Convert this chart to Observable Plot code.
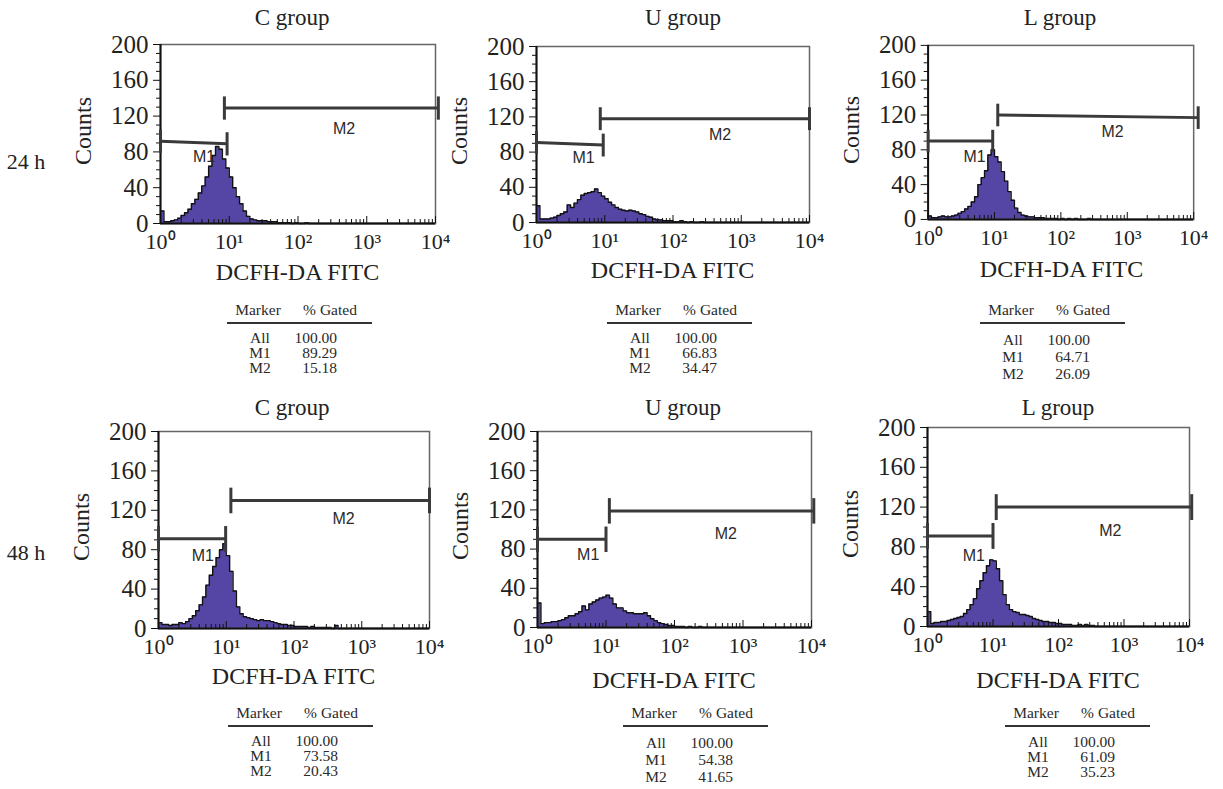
<!DOCTYPE html>
<html><head><meta charset="utf-8">
<script src="https://cdn.jsdelivr.net/npm/d3@7"></script>
<script src="https://cdn.jsdelivr.net/npm/@observablehq/plot@0.6"></script>
<style>
body{margin:0;background:#fff}
#root{position:relative;width:1223px;height:789px;overflow:hidden;font-family:"Liberation Serif","Times New Roman",serif;color:#222}
.t{position:absolute;white-space:nowrap;transform:translate(-50%,-50%);line-height:1}
.rot{transform:translate(-50%,-50%) rotate(-90deg)}
.p{position:absolute}
.tbl{position:absolute;width:145px;height:80px;font-size:15.5px;color:#2a2a2a}
.tbl div{position:absolute;white-space:nowrap;line-height:1}
</style></head><body><div id="root"></div>
<script>
// ---------- data ----------
const groups = ["C group", "U group", "L group", "C group", "U group", "L group"];
const times = ["24 h", "48 h"];
const binStep = 0.05; // decades per histogram channel, starting at 10^0

const countsC24 = [14,2,2,3,4,6,9,12,16,22,27,34,42,52,64,76,86,83,72,62,52,40,30,22,14,8,5,4,3,3,3,2,2,2,1,1,1,1,0,1,0,0,1,0,0,0,0,0,0,0,0];
const countsU24 = [19,4,4,4,5,6,8,10,12,20,17,22,26,31,33,34,35,38,34,30,27,23,20,17,15,14,13,14,13,12,10,9,7,6,4,3,3,2,2,2,1,1,2,1,0,1,0,0,1,0,0];
const countsL24 = [4,2,2,3,4,3,3,4,5,7,9,12,15,20,26,40,48,56,74,80,72,66,55,44,32,22,13,8,5,4,3,3,2,2,2,1,1,1,1,0,1,0,1,0,1,0,0,0,1,0,0];
const countsC48 = [6,4,4,3,4,4,6,5,7,10,13,18,24,32,44,54,63,72,80,86,74,58,38,22,15,12,11,10,9,8,9,8,8,7,6,5,4,4,3,3,2,2,2,2,1,2,1,1,1,1,1,0,3,0];
const countsU48 = [25,4,5,5,6,6,7,8,10,12,12,14,16,22,18,24,26,28,30,31,33,30,24,20,20,17,15,15,14,14,14,15,12,9,7,5,4,3,2,2,1,1,1,0,1,0,0,1,0,0,0];
const countsL48 = [15,3,4,4,5,5,6,7,8,9,10,13,17,22,28,38,46,54,61,67,66,58,46,32,22,17,15,14,12,12,11,10,8,7,6,5,5,4,4,3,3,2,2,2,1,1,2,1,2,1,1];
const counts = [countsC24, countsU24, countsL24, countsC48, countsU48, countsL48];

// gate markers: [start, end] on the FITC axis, and [height at start, height at end]
const m1X = [[1, 9.3], [1, 9.5], [1, 9.4], [1, 9.8], [1, 10], [1, 10]];
const m1Y = [[92, 89], [91, 88], [90, 90], [91, 91], [90, 90], [91, 91]];
const m2X = [[8.5, 11000], [8.6, 10000], [11.2, 11700], [11.7, 10000], [11.2, 10800], [11.2, 10800]];
const m2Y = [[129, 129], [118, 118], [120, 117], [130, 130], [119, 119], [120, 120]];
const m1Label = [[4.3, 74], [4.9, 74], [5, 72], [4.5, 74], [5.5, 74], [5.1, 71]];
const m2Label = [[468, 106], [490, 100], [600, 101], [540, 111], [560, 96], [620, 96]];

const tableHeader = ["Marker", "% Gated"];
const markerNames = ["All", "M1", "M2"];
const gated = [
  ["100.00", "89.29", "15.18"],
  ["100.00", "66.83", "34.47"],
  ["100.00", "64.71", "26.09"],
  ["100.00", "73.58", "20.43"],
  ["100.00", "54.38", "41.65"],
  ["100.00", "61.09", "35.23"]
];

const xTicks = [1, 10, 100, 1000, 10000];
const xTickLabels = ["10\u2070", "10\u00B9", "10\u00B2", "10\u00B3", "10\u2074"];
const yTicks = [0, 40, 80, 120, 160, 200];
const xLabel = "DCFH-DA FITC";
const yLabel = "Counts";

// ---------- layout (pixel geometry only) ----------
const frames = [
  {l:160, r:435, t:44, b:223},
  {l:536, r:809, t:46, b:222},
  {l:928, r:1195, t:45, b:220},
  {l:158, r:429, t:431, b:628},
  {l:537, r:811, t:431, b:627},
  {l:927, r:1189, t:427, b:626}
];
const titlePos = [[292,17],[683,17],[1060,17],[292,407],[683,407],[1058,407]];
const xTitleY = [272, 270, 269, 676, 680, 680];
const tablePos = [[227,310],[607,310],[980,310],[228,713],[623,713],[1005,713]];
const rowStart = [28, 28, 30, 28, 30, 29];
const rowGap = [15, 15, 17, 15, 17, 15];
const timePos = [[26,162],[26,553]];

// minor ticks
const xMinor = [];
for (const d of [1, 10, 100, 1000]) for (let k = 2; k <= 9; k++) xMinor.push(k * d);
const yMinor = d3.range(0, 201, 10).filter(v => v % 40 !== 0);

const root = document.getElementById("root");
function addText(txt, x, y, size, cls = "t") {
  const d = document.createElement("div");
  d.className = cls; d.textContent = txt;
  d.style.left = x + "px"; d.style.top = y + "px"; d.style.fontSize = size + "px";
  root.appendChild(d);
  return d;
}

const markerColor = "#3a3a3a";
for (let i = 0; i < 6; i++) {
  const f = frames[i];
  const ml = 70, mr = 30, mt = 20, mb = 40;
  const W = f.r - f.l + ml + mr, H = f.b - f.t + mt + mb;
  const hist = counts[i].map((c, j) => ({x: Math.pow(10, j * binStep), y: c}));
  hist.push({x: Math.pow(10, counts[i].length * binStep), y: 0});
  hist.push({x: 10000, y: 0});
  const m1 = [{x1: m1X[i][0], x2: m1X[i][1], y1: m1Y[i][0], y2: m1Y[i][1]}];
  const m2 = [{x1: m2X[i][0], x2: m2X[i][1], y1: m2Y[i][0], y2: m2Y[i][1]}];
  const ends = [
    {x: m1X[i][0], y: m1Y[i][0]}, {x: m1X[i][1], y: m1Y[i][1]},
    {x: m2X[i][0], y: m2Y[i][0]}, {x: m2X[i][1], y: m2Y[i][1]}
  ];
  const labels = [
    {x: m1Label[i][0], y: m1Label[i][1], t: "M1"},
    {x: m2Label[i][0], y: m2Label[i][1], t: "M2"}
  ];
  const svg = Plot.plot({
    width: W, height: H, marginLeft: ml, marginRight: mr, marginTop: mt, marginBottom: mb,
    style: {background: "transparent", overflow: "visible", fontFamily: "Liberation Serif, serif", color: "#222"},
    x: {type: "log", domain: [1, 10000]},
    y: {domain: [0, 200]},
    marks: [
      Plot.areaY(hist, {x: "x", y: "y", curve: "step-after", fill: "#5546a6"}),
      Plot.lineY(hist, {x: "x", y: "y", curve: "step-after", stroke: "#111", strokeWidth: 1.4}),
      Plot.frame({stroke: "#666", strokeWidth: 1.5}),
      Plot.ruleX([1], {stroke: "#111", strokeWidth: 2}),
      Plot.ruleY([0], {stroke: "#111", strokeWidth: 2}),
      Plot.axisY(yMinor, {tickSize: 4, text: null, label: null, stroke: "#111"}),
      Plot.axisY(yTicks, {tickSize: 7, tickPadding: 5, fontSize: 25, label: null, stroke: "#111", fill: "#222"}),
      Plot.axisX(xMinor, {tickSize: -4, text: null, label: null, stroke: "#111"}),
      Plot.axisX(xTicks, {tickSize: -7, text: null, label: null, stroke: "#111"}),
      Plot.axisX(xTicks, {tickSize: 0, tickPadding: 10, fontSize: 22, label: null, fill: "#222",
        tickFormat: d => xTickLabels[Math.round(Math.log10(d))]}),
      Plot.link(m1, {x1: "x1", x2: "x2", y1: "y1", y2: "y2", stroke: markerColor, strokeWidth: 3}),
      Plot.link(m2, {x1: "x1", x2: "x2", y1: "y1", y2: "y2", stroke: markerColor, strokeWidth: 3}),
      Plot.link(ends, {x1: "x", x2: "x", y1: d => d.y - 13, y2: d => d.y + 13, stroke: markerColor, strokeWidth: 3}),
      Plot.text(labels, {x: "x", y: "y", text: "t", fontFamily: "Liberation Sans, Arial, sans-serif", fontSize: 16, fill: "#2a2a2a"})
    ]
  });
  const wrap = document.createElement("div");
  wrap.className = "p";
  wrap.style.left = (f.l - ml) + "px";
  wrap.style.top = (f.t - mt) + "px";
  wrap.appendChild(svg);
  root.appendChild(wrap);

  // titles and axis titles
  addText(groups[i], titlePos[i][0], titlePos[i][1], 23);
  addText(xLabel, (f.l + f.r) / 2, xTitleY[i], 24);
  addText(yLabel, f.l - 77, (f.t + f.b) / 2 - 3, 24, "t rot");

  // gated table
  const [L, T] = tablePos[i];
  const tb = document.createElement("div");
  tb.className = "tbl";
  tb.style.left = L + "px"; tb.style.top = (T - 8) + "px";
  const h1 = document.createElement("div"); h1.textContent = tableHeader[0];
  h1.style.left = "31px"; h1.style.top = "0px"; h1.style.transform = "translateX(-50%)";
  const h2 = document.createElement("div"); h2.textContent = tableHeader[1];
  h2.style.left = "103px"; h2.style.top = "0px"; h2.style.transform = "translateX(-50%)";
  const rule = document.createElement("div");
  rule.style.left = "0px"; rule.style.top = "20px"; rule.style.width = "145px"; rule.style.height = "2px"; rule.style.background = "#333";
  tb.append(h1, h2, rule);
  markerNames.forEach((m, k) => {
    const top = rowStart[i] + k * rowGap[i];
    const a = document.createElement("div"); a.textContent = m;
    a.style.left = "33px"; a.style.top = top + "px"; a.style.transform = "translateX(-50%)";
    const b = document.createElement("div"); b.textContent = gated[i][k];
    b.style.right = "35px"; b.style.top = top + "px";
    tb.append(a, b);
  });
  root.appendChild(tb);
}
times.forEach((t, k) => addText(t, timePos[k][0], timePos[k][1], 22));
</script></body></html>
